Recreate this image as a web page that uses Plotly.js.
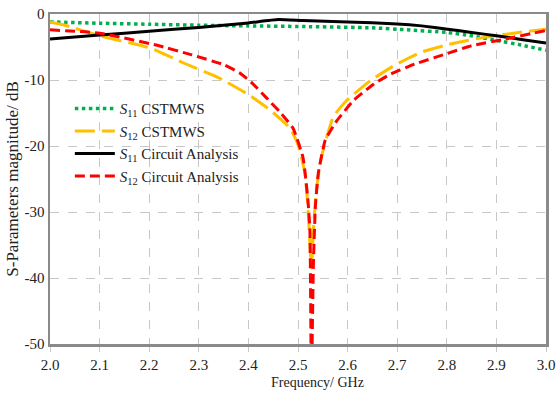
<!DOCTYPE html>
<html>
<head>
<meta charset="utf-8">
<script src="https://cdn.plot.ly/plotly-3.0.1.min.js"></script>
<style>
  html, body { margin: 0; padding: 0; background: #ffffff; }
  #chart { width: 560px; height: 393px; }
</style>
</head>
<body>
<div id="chart"></div>
<script>
// Frequency sweep (GHz) and S-parameter magnitudes (dB)
const freqS11Cst = [2.0, 2.1, 2.2, 2.3, 2.4, 2.51, 2.65, 2.72, 2.8, 2.85, 2.9, 2.95, 3.0];
const s11Cst     = [-1.2, -1.4, -1.55, -1.7, -1.8, -1.9, -2.1, -2.4, -2.8, -3.3, -4.0, -4.7, -5.5];

const freqS12Cst = [2.0, 2.03, 2.1, 2.204, 2.272, 2.341, 2.402, 2.443, 2.484, 2.5, 2.514, 2.52, 2.527,
                    2.531, 2.537, 2.547, 2.571, 2.598, 2.646, 2.694, 2.748, 2.81, 2.878, 2.945, 3.0];
const s12Cst     = [-1.2, -1.7, -3.3, -5.2, -7.5, -9.7, -12.3, -14.5, -17.3, -19.8, -24.1, -29.2, -38.5,
                    -32.7, -26.7, -21.7, -15.6, -13.1, -10.1, -7.8, -5.8, -4.5, -3.5, -2.8, -2.3];

const freqS11Ckt = [2.0, 2.1, 2.2, 2.3, 2.4, 2.46, 2.51, 2.6, 2.7, 2.749, 2.802, 2.85, 2.9, 2.95, 3.0];
const s11Ckt     = [-3.8, -3.2, -2.6, -2.05, -1.35, -0.85, -1.0, -1.2, -1.5, -1.8, -2.3, -2.8, -3.3, -3.85, -4.4];

const freqS12Ckt = [2.0, 2.1, 2.214, 2.286, 2.351, 2.382, 2.408, 2.435, 2.463, 2.49, 2.51, 2.516, 2.52,
                    2.524, 2.527, 2.531, 2.535, 2.541, 2.555, 2.578, 2.612, 2.653, 2.687, 2.735, 2.796,
                    2.85, 2.918, 3.0];
const s12Ckt     = [-2.4, -2.9, -4.7, -6.2, -7.7, -8.9, -10.5, -12.6, -14.8, -17.3, -21.7, -25.2, -28.2,
                    -32.7, -56.0, -38.0, -29.2, -24.1, -19.1, -16.2, -13.1, -10.6, -9.1, -7.6, -6.1,
                    -4.8, -3.8, -2.5];

const seriesNames = ['<i>S</i><sub>11</sub> CSTMWS', '<i>S</i><sub>12</sub> CSTMWS',
                     '<i>S</i><sub>11</sub> Circuit Analysis', '<i>S</i><sub>12</sub> Circuit Analysis'];

const xTicks = [2.0, 2.1, 2.2, 2.3, 2.4, 2.5, 2.6, 2.7, 2.8, 2.9, 3.0];
const xTickText = ['2.0', '2.1', '2.2', '2.3', '2.4', '2.5', '2.6', '2.7', '2.8', '2.9', '3.0'];
const yTicks = [0, -10, -20, -30, -40, -50];
const yTickText = ['0', '-10', '-20', '-30', '-40', '-50'];
const xTitle = 'Frequency/ GHz';
const yTitle = 'S-Parameters magnitude/ dB';

const serif = 'Liberation Serif, Times New Roman, serif';

const traces = [
  { x: freqS11Cst, y: s11Cst, name: seriesNames[0], mode: 'lines',
    line: { color: '#00b050', width: 3.5, dash: 'dot', shape: 'spline', smoothing: 0.5 } },
  { x: freqS12Cst, y: s12Cst, name: seriesNames[1], mode: 'lines',
    line: { color: '#ffc000', width: 3, dash: '20px,7px', shape: 'spline', smoothing: 0.4 } },
  { x: freqS11Ckt, y: s11Ckt, name: seriesNames[2], mode: 'lines',
    line: { color: '#000000', width: 3, shape: 'spline', smoothing: 0.4 } },
  { x: freqS12Ckt, y: s12Ckt, name: seriesNames[3], mode: 'lines',
    line: { color: '#ff0000', width: 3, dash: '10px,5px', shape: 'spline', smoothing: 0.4 } }
];

const axisCommon = {
  showgrid: true, gridcolor: '#c8c8c8', gridwidth: 1, griddash: 'dash',
  showline: true, linecolor: '#8a8a8a', linewidth: 2.5, mirror: true,
  zeroline: false, tickmode: 'array',
  tickfont: { family: serif, size: 15, color: '#222222' }
};

const layout = {
  width: 560, height: 393,
  margin: { l: 50, r: 14, t: 14, b: 49 },
  paper_bgcolor: '#ffffff', plot_bgcolor: '#ffffff',
  showlegend: true,
  legend: {
    x: 0.04, y: 0.763, xanchor: 'left', yanchor: 'top',
    bgcolor: 'rgba(0,0,0,0)', borderwidth: 0,
    font: { family: serif, size: 15, color: '#222222' },
    itemwidth: 40, tracegroupgap: 0
  },
  xaxis: Object.assign({}, axisCommon, {
    range: [2, 3], tickvals: xTicks, ticktext: xTickText,
    ticks: 'outside', ticklen: 5, tickcolor: '#c8c8c8'
  }),
  yaxis: Object.assign({}, axisCommon, {
    range: [-50, 0], tickvals: yTicks, ticktext: yTickText,
    ticks: '',
    title: { text: yTitle, font: { family: serif, size: 17, color: '#222222' }, standoff: 2 }
  }),
  annotations: [
    { text: xTitle, xref: 'paper', yref: 'paper', x: 0.54, y: -0.118,
      xanchor: 'center', yanchor: 'middle', showarrow: false,
      font: { family: serif, size: 14, color: '#222222' } }
  ]
};

Plotly.newPlot('chart', traces, layout, { displayModeBar: false, staticPlot: true });
</script>
</body>
</html>
